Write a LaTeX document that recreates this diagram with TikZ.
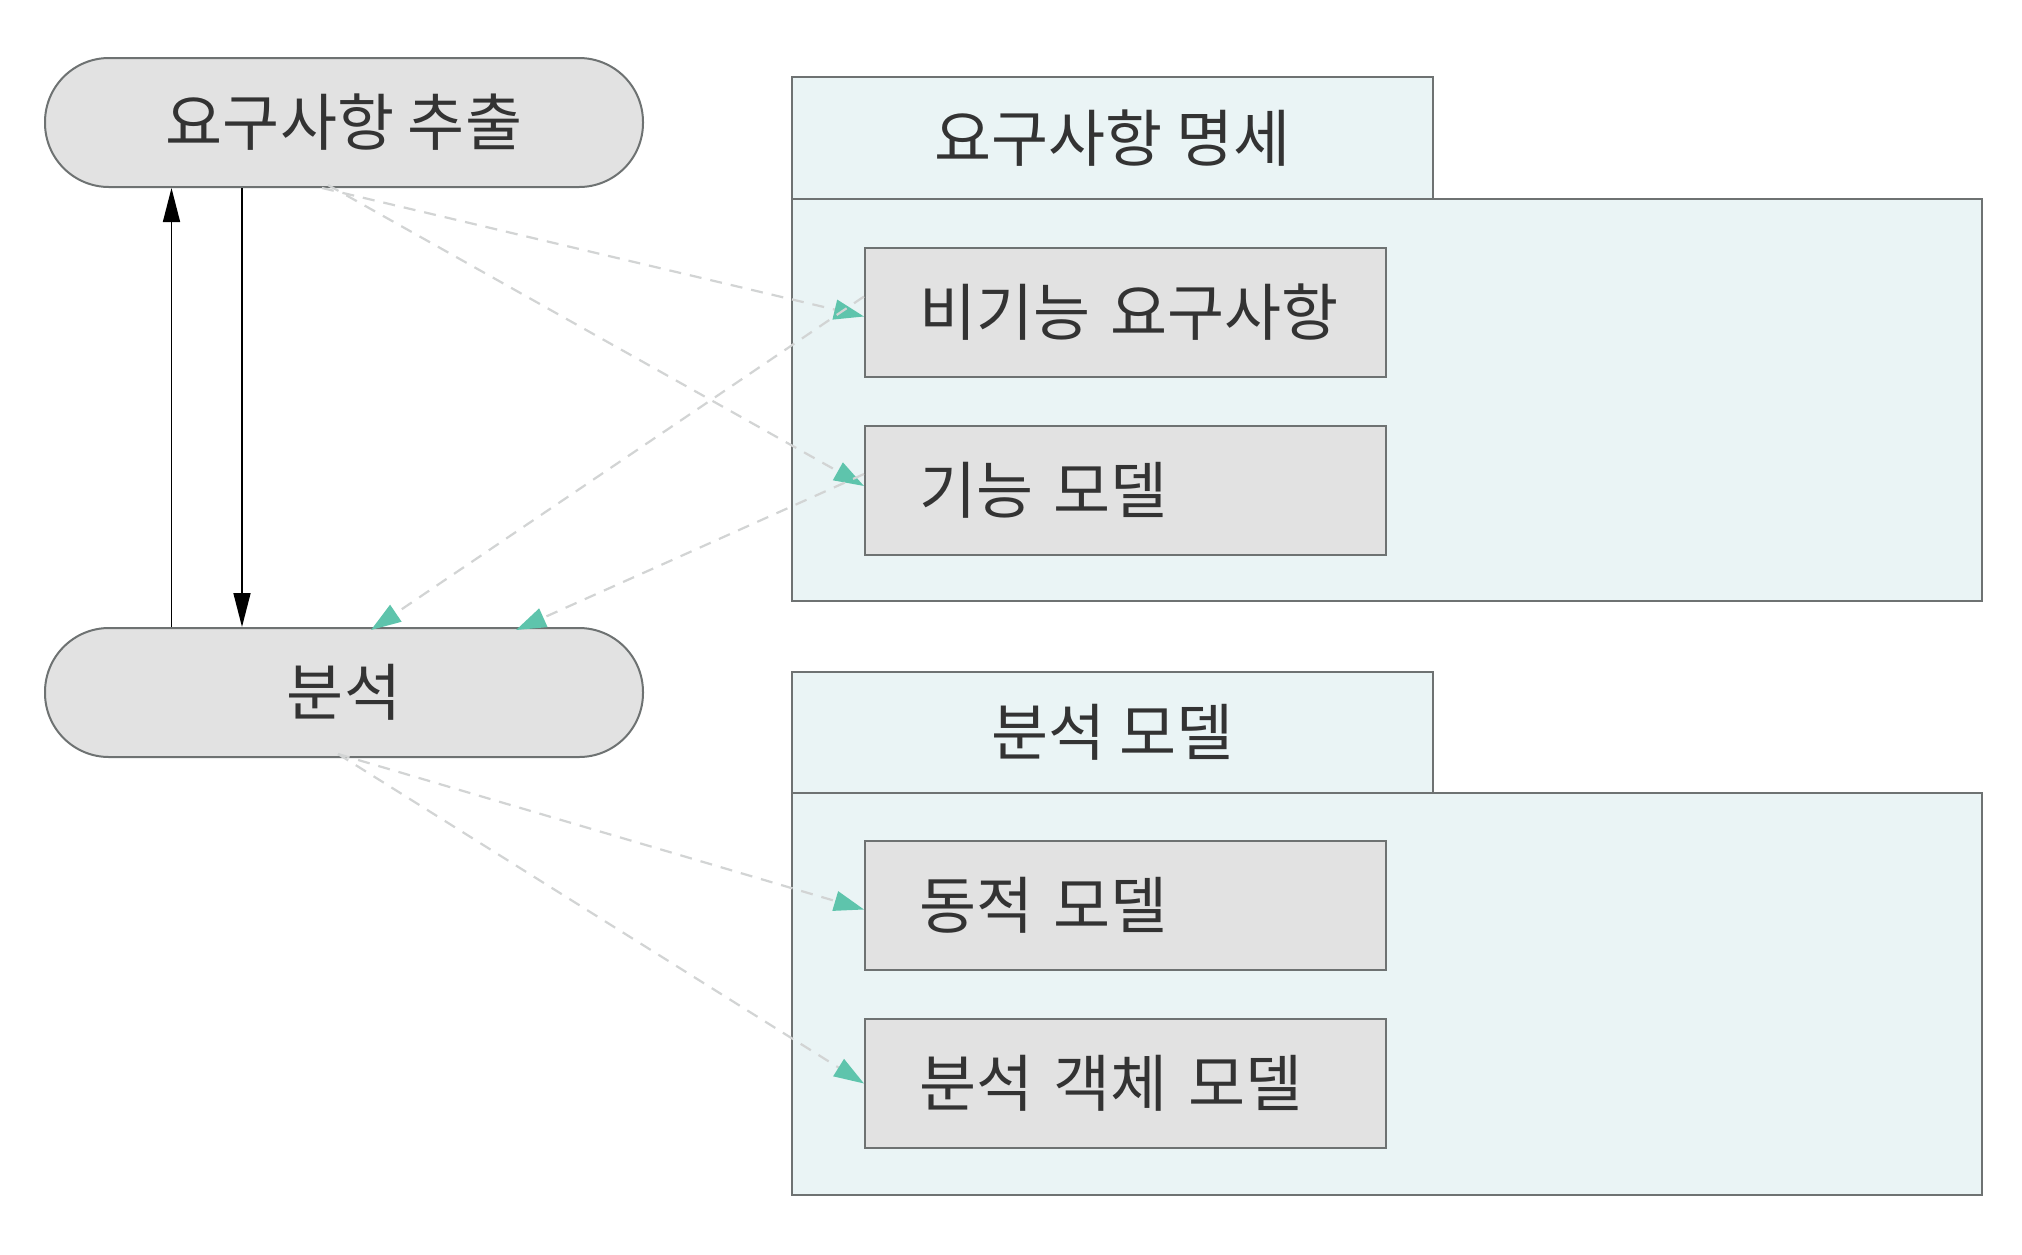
\documentclass[tikz,border=0pt]{standalone}
\usepackage{fontspec}
\setmainfont{Noto Sans CJK KR}
\usetikzlibrary{arrows.meta,calc}
\definecolor{boxfill}{HTML}{E2E2E2}
\definecolor{contfill}{HTML}{EAF4F5}
\definecolor{edge}{HTML}{6E7272}
\definecolor{dashc}{HTML}{D2D4D4}
\definecolor{tealtip}{HTML}{5EC4AC}
\definecolor{txt}{HTML}{333333}
\tikzset{
  pill/.style={draw=edge, line width=2pt, fill=boxfill, minimum width=598pt, minimum height=129pt, rounded corners=64pt, text=txt, font=\fontsize{62}{70}\selectfont, inner sep=0pt},
  cont/.style={draw=edge, line width=2pt, fill=contfill, inner sep=0pt},
  tab/.style={cont, text=txt, font=\fontsize{62}{70}\selectfont},
  inbox/.style={draw=edge, line width=2pt, fill=boxfill, minimum width=521pt, minimum height=129pt, text width=413pt, align=left, inner xsep=54pt, inner ysep=0pt, text=txt, font=\fontsize{62}{70}\selectfont},
  flow/.style={draw=dashc, line width=2.2pt, dash pattern=on 12pt off 9pt, -{Triangle[length=30pt,width=20pt,color=tealtip]}},
  solid/.style={draw=black, line width=1.6pt, -{Triangle[length=34pt,width=17pt]}}
}
\begin{document}
\begin{tikzpicture}[x=1pt,y=-1pt]
\useasboundingbox[fill=white] (0,0) rectangle (2022,1254);
% containers
\node[cont, minimum width=1190pt, minimum height=402pt] (body1) at (1387,400) {};
\node[tab, minimum width=641pt, minimum height=122pt] (tab1) at (1112.5,138) {\raisebox{-4pt}{요구사항 명세}};
\node[cont, minimum width=1190pt, minimum height=402pt] (body2) at (1387,994) {};
\node[tab, minimum width=641pt, minimum height=121pt] (tab2) at (1112.5,732.5) {\raisebox{-4pt}{분석 모델}};
% inner boxes
\node[inbox] (b1) at (1125.5,312.5) {\mbox{비기능 요구사항}};
\node[inbox] (b2) at (1125.5,490) {\mbox{기능 모델}};
\node[inbox] (b3) at (1125.5,905.5) {\mbox{동적 모델}};
\node[inbox] (b4) at (1125.5,1083.5) {\mbox{분석 객체 모델}};
% pills
\node[pill] (req) at (344,122.5) {요구사항 추출};
\node[pill] (ana) at (344,692.5) {분석};
% solid arrows
\draw[solid] ([xshift=-172.5pt]ana.north) -- ([xshift=-172.5pt]req.south);
\draw[solid] ([xshift=-102pt]req.south) -- ([xshift=-102pt]ana.north);
% dashed flows
\draw[flow] ([xshift=-22pt]req.south) -- ([yshift=-4pt]b1.west);
\draw[flow] ([xshift=-16pt,yshift=3pt]req.south) -- ([yshift=4pt]b2.west);
\draw[flow] ([yshift=16pt]b1.west) -- ([xshift=27pt,yshift=-3pt]ana.north);
\draw[flow] ([yshift=16pt]b2.west) -- ([xshift=172pt,yshift=-3pt]ana.north);
\draw[flow] ([xshift=-6pt,yshift=4pt]ana.south) -- ([yshift=-4pt]b3.west);
\draw[flow] ([xshift=-6pt,yshift=4pt]ana.south) -- (b4.west);
\end{tikzpicture}
\end{document}
